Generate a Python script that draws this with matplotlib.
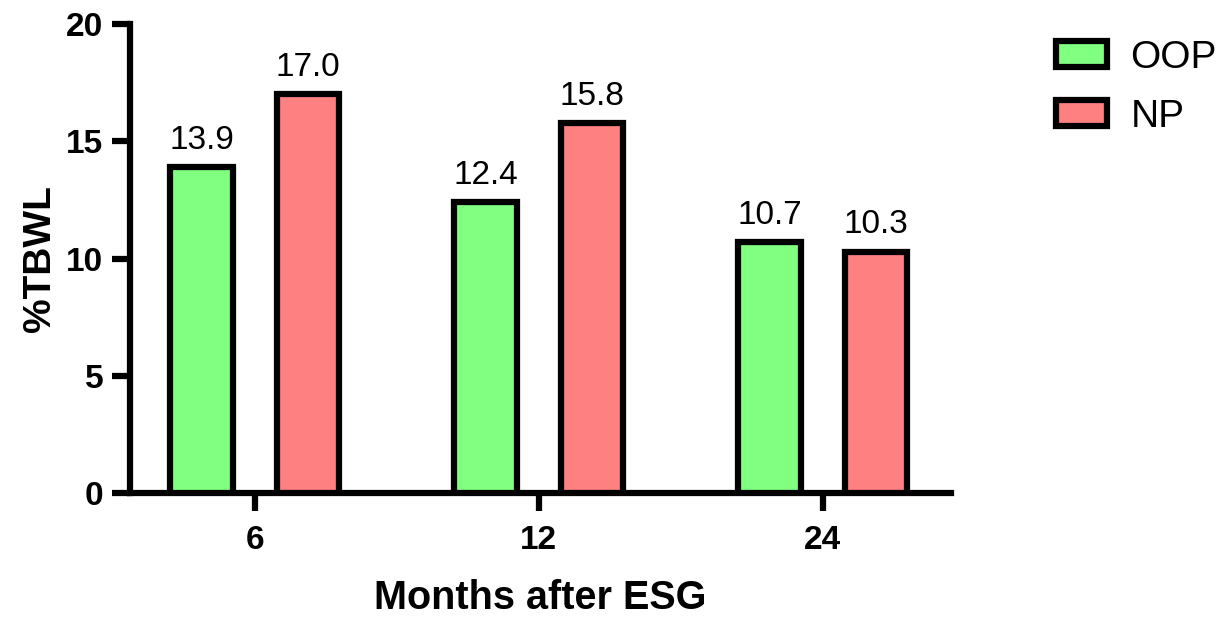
import numpy as np
import matplotlib.pyplot as plt

plt.rcParams['font.family'] = ['Liberation Sans', 'DejaVu Sans']

months = ["6", "12", "24"]
oop = [13.9, 12.4, 10.7]
np_vals = [17.0, 15.8, 10.3]
series_names = ["OOP", "NP"]
y_ticks = [0, 5, 10, 15, 20]


def plot_tbwl():
    fig = plt.figure(figsize=(12.25, 6.2), dpi=100)
    ax = fig.add_axes([0.106, 0.205, 0.670, 0.756])

    x = np.arange(len(months))
    width = 0.22
    offset = 0.187
    lw = 4.5

    b1 = ax.bar(x - offset, oop, width, color="#80FF80", edgecolor="black",
                linewidth=lw, label=series_names[0], zorder=3)
    b2 = ax.bar(x + offset, np_vals, width, color="#FF8080", edgecolor="black",
                linewidth=lw, label=series_names[1], zorder=3)

    for bars, vals in ((b1, oop), (b2, np_vals)):
        for rect, v in zip(bars, vals):
            ax.annotate(f"{v:.1f}", (rect.get_x() + rect.get_width() / 2, v),
                        xytext=(0, 8), textcoords="offset points",
                        ha="center", va="bottom", fontsize=24)

    ax.set_xlim(-0.44, 2.45)
    ax.set_ylim(0, 20)
    ax.set_yticks(y_ticks)
    ax.set_yticklabels([str(t) for t in y_ticks], fontsize=24, fontweight="bold")
    ax.set_xticks(x)
    ax.set_xticklabels(months, fontsize=24, fontweight="bold")

    for side in ("top", "right"):
        ax.spines[side].set_visible(False)
    for side in ("left", "bottom"):
        ax.spines[side].set_linewidth(lw)
        ax.spines[side].set_capstyle("projecting")

    ax.tick_params(axis="both", width=lw, length=13)
    ax.tick_params(axis="y", pad=6)
    ax.tick_params(axis="x", pad=10)

    ax.set_xlabel("Months after ESG", fontsize=28.5, fontweight="bold", labelpad=17)
    ax.set_ylabel("%TBWL", fontsize=28, fontweight="bold", labelpad=6)

    ax.legend(loc="upper left", bbox_to_anchor=(1.11, 1.0), frameon=False,
              fontsize=28, handlelength=1.3, handleheight=0.65,
              handletextpad=0.6, labelspacing=0.6, borderaxespad=0)

    fig.savefig("out.png", dpi=100)


plot_tbwl()
